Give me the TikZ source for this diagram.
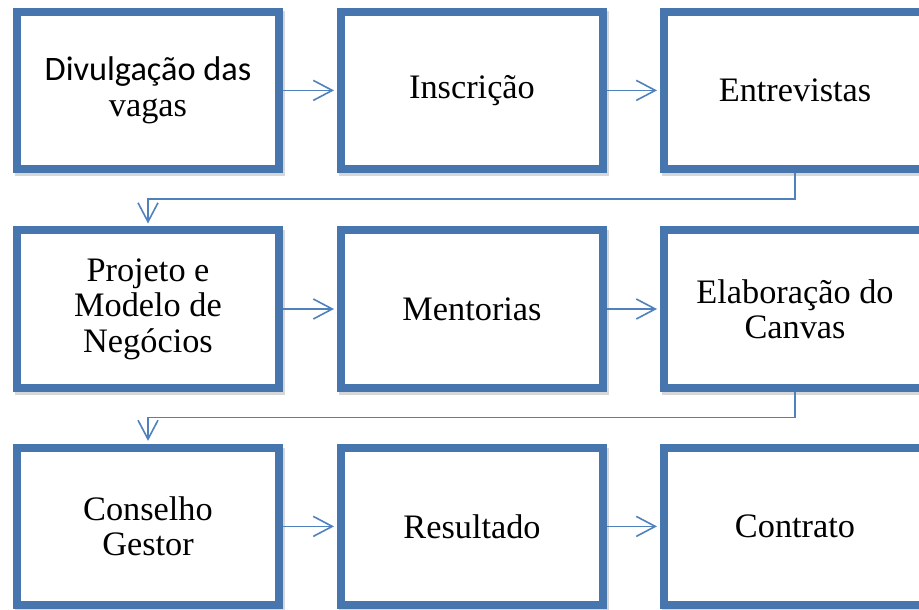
\documentclass[tikz,border=0pt]{standalone}
\usepackage{fontspec}
\setmainfont{Liberation Serif}
\newfontfamily\calibri{Carlito}
\usetikzlibrary{arrows.meta,shadows}
\definecolor{boxblue}{RGB}{71,117,173}
\definecolor{lineblue}{RGB}{79,129,189}

\begin{document}
\begin{tikzpicture}[
    etapa/.style={draw=boxblue, line width=0.2cm, fill=white,
      minimum width=6.55cm, minimum height=3.925cm, align=center,
      font=\fontsize{24.4}{25.2}\selectfont,
      drop shadow={shadow xshift=0.04cm, shadow yshift=-0.09cm,
        fill=black!45, draw=black!45, line width=0.2cm, opacity=0.35}},
    seta/.style={draw=lineblue, line width=0.04cm,
      -{Straight Barb[length=0.475cm, width=0.5cm]}, shorten >=0.075cm}
  ]
    \useasboundingbox (0, 0) rectangle (22.975, -15.25);

    % first row
    \node [etapa] (div) at (3.7, -2.26) {\calibri Divulgação das\\\rmfamily vagas};
    \node [etapa] (insc) at (11.8, -2.26) {Inscrição};
    \node [etapa] (entr) at (19.875, -2.26) {Entrevistas};

    % second row
    \node [etapa] (proj) at (3.7, -7.725) {Projeto e\\Modelo de\\Negócios};
    \node [etapa] (ment) at (11.8, -7.725) {Mentorias};
    \node [etapa] (elab) at (19.875, -7.725) {Elaboração do\\Canvas};

    % third row
    \node [etapa] (cons) at (3.7, -13.16) {Conselho\\Gestor};
    \node [etapa] (res) at (11.8, -13.16) {Resultado};
    \node [etapa] (contr) at (19.875, -13.16) {Contrato};

    \draw [seta] (div.east) -- (insc.west);
    \draw [seta] (insc.east) -- (entr.west);
    \draw [seta] (entr.south) -- ++(0, -0.66) -| (proj.north);
    \draw [seta] (proj.east) -- (ment.west);
    \draw [seta] (ment.east) -- (elab.west);
    \draw [seta] (elab.south) -- ++(0, -0.65) -| (cons.north);
    \draw [seta] (cons.east) -- (res.west);
    \draw [seta] (res.east) -- (contr.west);
  \end{tikzpicture}
\end{document}
